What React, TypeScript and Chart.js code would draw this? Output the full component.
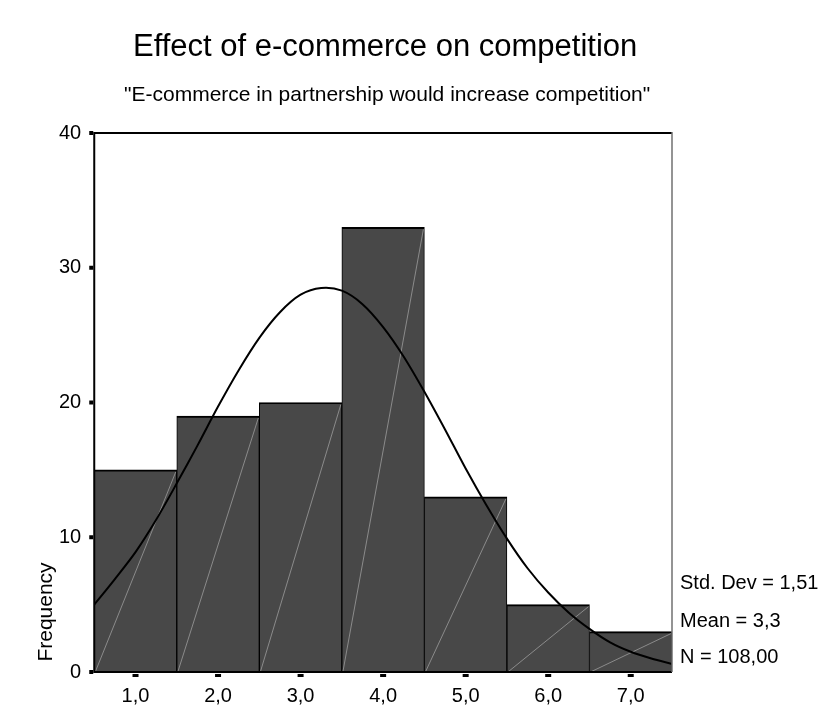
import React, { useEffect, useRef } from 'react';
import { Chart, registerables } from 'chart.js';

Chart.register(...registerables);

const categories = ['1,0', '2,0', '3,0', '4,0', '5,0', '6,0', '7,0'];
const frequencies = [15, 19, 20, 33, 13, 5, 3];
const curveX = [0.5, 0.75, 1.0, 1.25, 1.5, 1.75, 2.0, 2.25, 2.5, 2.75, 3.0, 3.25, 3.5, 3.75, 4.0, 4.25, 4.5, 4.75, 5.0, 5.25, 5.5, 5.75, 6.0, 6.25, 6.5, 6.75, 7.0, 7.25, 7.5];
const curveY = [5.0, 6.9, 8.9, 11.3, 14.0, 16.8, 19.7, 22.4, 24.8, 26.7, 28.0, 28.5, 28.3, 27.3, 25.6, 23.4, 20.8, 18.0, 15.1, 12.4, 9.9, 7.7, 5.9, 4.4, 3.2, 2.2, 1.5, 1.0, 0.6];
const yTicks = [0, 10, 20, 30, 40];
const titleText = 'Effect of e-commerce on competition';
const subtitleText = '"E-commerce in partnership would increase competition"';
const statsLines = ['Std. Dev = 1,51', 'Mean = 3,3', 'N = 108,00'];
const yAxisTitle = 'Frequency';

const FONT = "Arial, 'Liberation Sans', Helvetica, sans-serif";

const hatchPlugin = {
  id: 'hatch',
  afterDatasetDraw(chart: any, args: any) {
    if (args.meta.type !== 'bar') return;
    const ctx = chart.ctx;
    ctx.save();
    ctx.strokeStyle = '#9c9c9c';
    ctx.lineWidth = 0.8;
    args.meta.data.forEach((el: any) => {
      const p = el.getProps(['x', 'y', 'base', 'width'], true);
      const l = p.x - p.width / 2 + 1;
      const r = p.x + p.width / 2 - 1;
      ctx.beginPath();
      ctx.moveTo(l, p.base);
      ctx.lineTo(r, p.y + 2);
      ctx.stroke();
    });
    ctx.restore();
  },
};

const decorPlugin = {
  id: 'decor',
  afterDraw(chart: any) {
    const ctx = chart.ctx;
    const { left, right, top, bottom } = chart.chartArea;
    const xs = chart.scales.x;
    const ys = chart.scales.y;
    ctx.save();
    // frame
    ctx.strokeStyle = '#000';
    ctx.lineWidth = 2;
    ctx.beginPath();
    ctx.moveTo(right, top);
    ctx.lineTo(left, top);
    ctx.lineTo(left, bottom);
    ctx.lineTo(right, bottom);
    ctx.stroke();
    ctx.strokeStyle = '#707070';
    ctx.lineWidth = 1.5;
    ctx.beginPath();
    ctx.moveTo(right, top - 1);
    ctx.lineTo(right, bottom);
    ctx.stroke();
    // tick marks
    ctx.fillStyle = '#000';
    yTicks.forEach((v) => {
      const py = ys.getPixelForValue(v);
      ctx.fillRect(left - 5, py - 2, 4, 4);
    });
    categories.forEach((_, i) => {
      const px = xs.getPixelForValue(i);
      ctx.fillRect(px - 3, bottom + 2, 6, 3);
    });
    // titles
    const cx = (left + right) / 2 + 2;
    ctx.fillStyle = '#000';
    ctx.textAlign = 'center';
    ctx.textBaseline = 'middle';
    ctx.font = `31px ${FONT}`;
    ctx.fillText(titleText, cx, top - 86);
    ctx.font = `21px ${FONT}`;
    ctx.fillText(subtitleText, cx + 2, top - 38);
    // stats
    ctx.textAlign = 'left';
    ctx.font = `20px ${FONT}`;
    const offs = [-89, -51, -15];
    statsLines.forEach((s, i) => ctx.fillText(s, right + 8, bottom + offs[i]));
    // y title
    ctx.save();
    ctx.translate(46, bottom - 60);
    ctx.rotate(-Math.PI / 2);
    ctx.textAlign = 'center';
    ctx.font = `21px ${FONT}`;
    ctx.fillText(yAxisTitle, 0, 0);
    ctx.restore();
    ctx.restore();
  },
};

export default function App() {
  const ref = useRef<HTMLCanvasElement>(null);
  useEffect(() => {
    if (!ref.current) return;
    const chart = new Chart(ref.current, {
      type: 'bar',
      data: {
        labels: categories,
        datasets: [
          {
            type: 'line',
            data: curveX.map((x, i) => ({ x, y: curveY[i] })),
            xAxisID: 'x2',
            yAxisID: 'y',
            borderColor: '#000',
            borderWidth: 2,
            pointRadius: 0,
            tension: 0.3,
            fill: false,
            order: 0,
          } as any,
          {
            type: 'bar',
            data: frequencies,
            xAxisID: 'x',
            yAxisID: 'y',
            backgroundColor: '#484848',
            borderColor: '#000',
            borderWidth: { top: 2, left: 1, right: 1, bottom: 0 },
            borderSkipped: false,
            barPercentage: 1,
            categoryPercentage: 1,
            grouped: false,
            order: 1,
          } as any,
        ],
      },
      options: {
        responsive: false,
        animation: false,
        layout: { padding: { top: 133, right: 157, bottom: -14, left: 46 } },
        plugins: { legend: { display: false }, tooltip: { enabled: false } },
        scales: {
          x: {
            type: 'category',
            offset: true,
            grid: { display: false, drawTicks: false },
            border: { display: false },
            ticks: { color: '#000', padding: 13, font: { family: FONT, size: 20, lineHeight: 1.1 } },
          },
          x2: {
            type: 'linear',
            display: false,
            offset: false,
            grid: { offset: false },
            min: 0.5,
            max: 7.5,
          },
          y: {
            min: 0,
            max: 40,
            grid: { display: false, drawTicks: false },
            border: { display: false },
            ticks: { stepSize: 10, color: '#000', padding: 13, font: { family: FONT, size: 20 } },
          },
        },
      },
      plugins: [hatchPlugin, decorPlugin],
    });
    return () => chart.destroy();
  }, []);
  return (
    <div style={{ position: 'fixed', left: 0, top: 0, width: 829, height: 706, background: '#fff' }}>
      <canvas ref={ref} width={829} height={706} />
    </div>
  );
}
